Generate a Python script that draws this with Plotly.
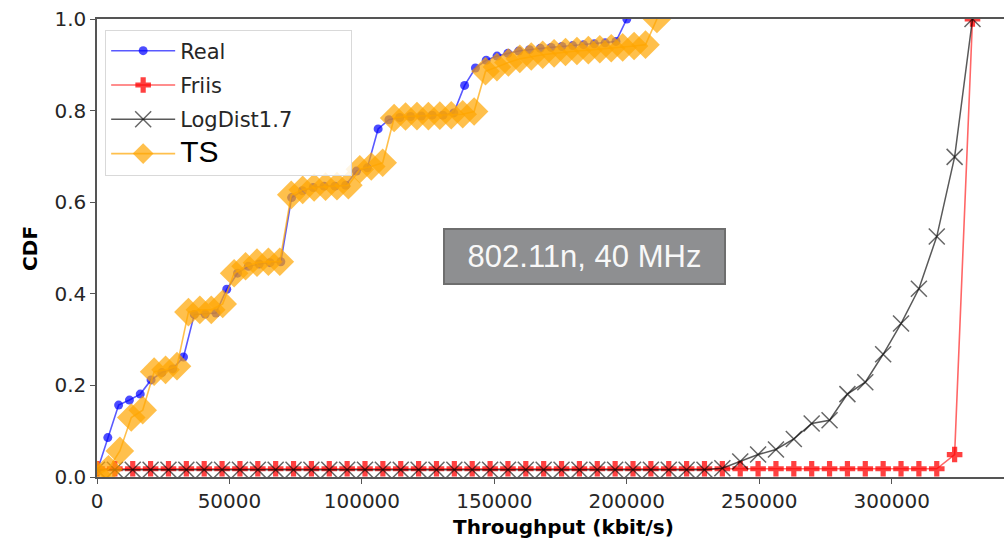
import plotly.graph_objects as go

# Throughput grid (kbit/s) at which each CDF is evaluated
throughput_real = [0, 4082, 8163, 12245, 16327, 20408, 24490, 28571, 32653, 36735,
                   40816, 44898, 48980, 53061, 57143, 61224, 65306, 69388, 73469, 77551,
                   81633, 85714, 89796, 93878, 97959, 102041, 106122, 110204, 114286, 118367,
                   122449, 126531, 130612, 134694, 138776, 142857, 146939, 151020, 155102, 159184,
                   163265, 167347, 171429, 175510, 179592, 183673, 187755, 191837, 195918, 200000]
cdf_real = [0.012, 0.086, 0.157, 0.168, 0.181, 0.212, 0.228, 0.236, 0.262, 0.355,
            0.356, 0.358, 0.41, 0.445, 0.46, 0.465, 0.468, 0.47, 0.61, 0.625,
            0.632, 0.635, 0.635, 0.637, 0.668, 0.675, 0.76, 0.78, 0.785, 0.787,
            0.788, 0.79, 0.79, 0.795, 0.855, 0.893, 0.91, 0.919, 0.925, 0.93,
            0.933, 0.936, 0.938, 0.94, 0.942, 0.944, 0.946, 0.948, 0.951, 1.0]

throughput_models = [0, 6745, 13490, 20235, 26980, 33725, 40470, 47215, 53960, 60705,
                     67450, 74195, 80940, 87685, 94430, 101175, 107920, 114665, 121410, 128155,
                     134900, 141645, 148390, 155135, 161880, 168625, 175370, 182115, 188860, 195605,
                     202350, 209095, 215840, 222585, 229330, 236075, 242820, 249565, 256310, 263055,
                     269800, 276545, 283290, 290035, 296780, 303525, 310270, 317015, 323760, 330505]
cdf_friis = [0.018] * 48 + [0.049, 1.0]
cdf_logdist = [0.016] * 35 + [0.019, 0.034, 0.049, 0.060, 0.083, 0.117, 0.124, 0.181, 0.207,
                              0.268, 0.335, 0.411, 0.525, 0.699, 1.0]

throughput_ts = [0, 4314, 8628, 12942, 17256, 21570, 25884, 30198, 34512, 38826,
                 43140, 47454, 51768, 56082, 60396, 64710, 69024, 73338, 77652, 81966,
                 86280, 90594, 94908, 99222, 103536, 107850, 112164, 116478, 120792, 125106,
                 129420, 133734, 138048, 142362, 146676, 150990, 155304, 159618, 163932, 168246,
                 172560, 176874, 181188, 185502, 189816, 194130, 198444, 202758, 207072, 211386]
cdf_ts = [0.005, 0.017, 0.057, 0.13, 0.146, 0.23, 0.234, 0.242, 0.36, 0.365,
          0.365, 0.378, 0.445, 0.46, 0.468, 0.47, 0.47, 0.616, 0.627, 0.632,
          0.634, 0.635, 0.637, 0.672, 0.678, 0.686, 0.784, 0.787, 0.788, 0.788,
          0.789, 0.79, 0.792, 0.798, 0.886, 0.895, 0.905, 0.913, 0.918, 0.922,
          0.925, 0.928, 0.93, 0.932, 0.934, 0.936, 0.938, 0.941, 0.944, 1.0]

x_ticks = [0, 50000, 100000, 150000, 200000, 250000, 300000]
y_ticks = [0.0, 0.2, 0.4, 0.6, 0.8, 1.0]

FONT = "DejaVu Sans"
TXT = "#262626"

fig = go.Figure()
fig.add_trace(go.Scatter(
    x=throughput_real, y=cdf_real, name="Real", mode="lines+markers",
    legendgroup="a",
    line=dict(color="rgba(0,0,255,0.65)", width=1.6),
    marker=dict(symbol="circle", size=9, color="rgba(0,0,255,0.7)", line=dict(width=0))))
fig.add_trace(go.Scatter(
    x=throughput_models, y=cdf_friis, name="Friis", mode="lines+markers",
    legendgroup="b",
    line=dict(color="rgba(255,0,0,0.6)", width=1.6),
    marker=dict(symbol="cross", size=13, color="rgba(255,0,0,0.75)", line=dict(width=0))))
fig.add_trace(go.Scatter(
    x=throughput_models, y=cdf_logdist, name="LogDist1.7" + "&nbsp;" * 8, mode="lines+markers",
    legendgroup="c",
    line=dict(color="rgba(0,0,0,0.65)", width=1.5),
    marker=dict(symbol="x-thin-open", size=16, color="rgba(0,0,0,0.6)",
                line=dict(width=1.5, color="rgba(0,0,0,0.6)"))))
fig.add_trace(go.Scatter(
    x=throughput_ts, y=cdf_ts,
    name='<span style="font-family:\'Liberation Sans\', Arial; font-size:30px; fill:#000000">TS</span>',
    mode="lines+markers", legendgroup="d",
    line=dict(color="rgba(255,165,0,0.7)", width=1.6),
    marker=dict(symbol="diamond", size=22, color="rgba(255,165,0,0.7)", line=dict(width=0))))

fig.update_layout(
    width=1004, height=541,
    margin=dict(l=97, r=0, t=19, b=64),
    paper_bgcolor="white", plot_bgcolor="white",
    font=dict(family=FONT, size=20, color=TXT),
    showlegend=True,
    legend=dict(
        x=0.009, y=0.977, xanchor="left", yanchor="top",
        bgcolor="rgba(255,255,255,0.85)", bordercolor="#d9d9d9", borderwidth=1,
        font=dict(family=FONT, size=21, color=TXT),
        itemwidth=64, traceorder="grouped", tracegroupgap=4,
    ),
    xaxis=dict(
        range=[0, 342400], tickmode="array", tickvals=x_ticks,
        ticktext=[str(v) for v in x_ticks],
        showgrid=False, zeroline=False, showline=True, mirror=True,
        linecolor="#555555", linewidth=1.5,
        ticks="outside", ticklen=5, tickcolor="#555555", tickwidth=1.2,
        tickfont=dict(family=FONT, size=20, color=TXT),
    ),
    yaxis=dict(
        range=[0, 1], tickmode="array", tickvals=y_ticks,
        ticktext=[f"{v:.1f}" for v in y_ticks],
        showgrid=False, zeroline=False, showline=True, mirror=False,
        linecolor="#555555", linewidth=1.5,
        ticks="outside", ticklen=5, tickcolor="#555555", tickwidth=1.2,
        tickfont=dict(family=FONT, size=20, color=TXT),
    ),
    annotations=[
        dict(text="<b>CDF</b>", xref="paper", yref="paper", x=-0.074, y=0.5,
             xanchor="center", yanchor="middle",
             textangle=-90, showarrow=False, font=dict(family=FONT, size=20, color="#000000")),
        dict(text="<b>Throughput (kbit/s)</b>", xref="paper", yref="paper", x=0.514, y=-0.109,
             xanchor="center", yanchor="middle",
             showarrow=False, font=dict(family=FONT, size=20, color="#000000")),
        dict(text="802.11n, 40 MHz", xref="paper", yref="paper", x=0.538, y=0.4815,
             xanchor="center", yanchor="middle",
             showarrow=False, width=279, height=53, borderpad=0, borderwidth=2,
             bgcolor="#8e8f91", bordercolor="#6e6e6e",
             font=dict(family="Liberation Sans, Arial", size=31, color="#f8f8f8")),
    ],
)

fig.write_html("out.html")
